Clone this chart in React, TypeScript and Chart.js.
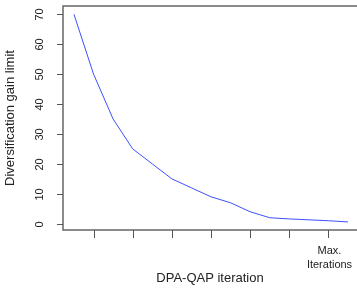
import React, { useEffect, useRef } from "react";
import { Chart, registerables } from "chart.js";

Chart.register(...registerables);

const iterations = [0, 1, 2, 3, 4, 5, 6, 7, 8, 9, 10, 11, 12, 13, 14];
const gainLimit = [70, 50, 35, 25, 20, 15, 12, 9, 7, 4, 2, 1.6, 1.3, 1.0, 0.6];
const yTicks = [0, 10, 20, 30, 40, 50, 60, 70];
const xTicks = [1, 3, 5, 7, 9, 11, 13];
const xTickLabels: string[][] = [[], [], [], [], [], [], ["Max.", "Iterations"]];
const yTitle = "Diversification gain limit";
const xTitle = "DPA-QAP iteration";

const FONT = '"Liberation Sans", Arial, sans-serif';

const rAxesPlugin = {
  id: "rAxes",
  afterDraw(chart: any) {
    const ctx = chart.ctx as CanvasRenderingContext2D;
    const { left, right, top, bottom } = chart.chartArea;
    const xs = chart.scales.x;
    const ys = chart.scales.y;
    ctx.save();
    // box
    ctx.strokeStyle = "#666";
    ctx.lineWidth = 1.5;
    ctx.beginPath();
    ctx.moveTo(right + 2, top);
    ctx.lineTo(left, top);
    ctx.lineTo(left, bottom);
    ctx.lineTo(right + 2, bottom);
    ctx.stroke();
    // y ticks
    ctx.lineWidth = 1;
    ctx.strokeStyle = "#555";
    ctx.fillStyle = "#222";
    ctx.font = `11px ${FONT}`;
    yTicks.forEach((v) => {
      const y = Math.round(ys.getPixelForValue(v)) + 0.5;
      ctx.beginPath();
      ctx.moveTo(left - 6, y);
      ctx.lineTo(left, y);
      ctx.stroke();
      ctx.save();
      ctx.translate(40, y);
      ctx.rotate(-Math.PI / 2);
      ctx.textAlign = "center";
      ctx.textBaseline = "middle";
      ctx.fillText(String(v), 0, 0);
      ctx.restore();
    });
    // x ticks
    xTicks.forEach((v, i) => {
      const x = Math.round(xs.getPixelForValue(v)) + 0.5;
      ctx.beginPath();
      ctx.moveTo(x, bottom);
      ctx.lineTo(x, bottom + 8);
      ctx.stroke();
      const lines = xTickLabels[i];
      ctx.textAlign = "center";
      ctx.textBaseline = "middle";
      lines.forEach((t, j) => {
        ctx.fillText(t, x + 1, 251 + j * 13.5);
      });
    });
    // titles
    ctx.font = `13px ${FONT}`;
    ctx.fillStyle = "#222";
    ctx.textAlign = "center";
    ctx.textBaseline = "middle";
    ctx.fillText(xTitle, (left + 357) / 2, 278);
    ctx.save();
    ctx.translate(10, (top + bottom) / 2);
    ctx.rotate(-Math.PI / 2);
    ctx.fillText(yTitle, 0, 0);
    ctx.restore();
    ctx.restore();
  },
};

export default function App() {
  const ref = useRef<HTMLCanvasElement>(null);
  useEffect(() => {
    document.body.style.margin = "0";
    const chart = new Chart(ref.current!, {
      type: "line",
      data: {
        labels: iterations,
        datasets: [
          {
            data: iterations.map((x, i) => ({ x, y: gainLimit[i] })),
            borderColor: "rgb(60,80,255)",
            borderWidth: 1,
            pointRadius: 0,
            tension: 0,
            fill: false,
          },
        ],
      },
      options: {
        animation: false,
        responsive: false,
        devicePixelRatio: 1,
        layout: { padding: { left: 63, top: 6, right: 0, bottom: 58 } },
        plugins: { legend: { display: false }, tooltip: { enabled: false } },
        scales: {
          x: { type: "linear", display: false, min: -0.56, max: 14.46 },
          y: { type: "linear", display: false, min: -2.1, max: 72.77 },
        },
      },
      plugins: [rAxesPlugin],
    });
    return () => chart.destroy();
  }, []);
  return (
    <div style={{ position: "fixed", left: 0, top: 0, width: 357, height: 288, background: "#fff" }}>
      <canvas ref={ref} width={357} height={288} style={{ display: "block" }} />
    </div>
  );
}
